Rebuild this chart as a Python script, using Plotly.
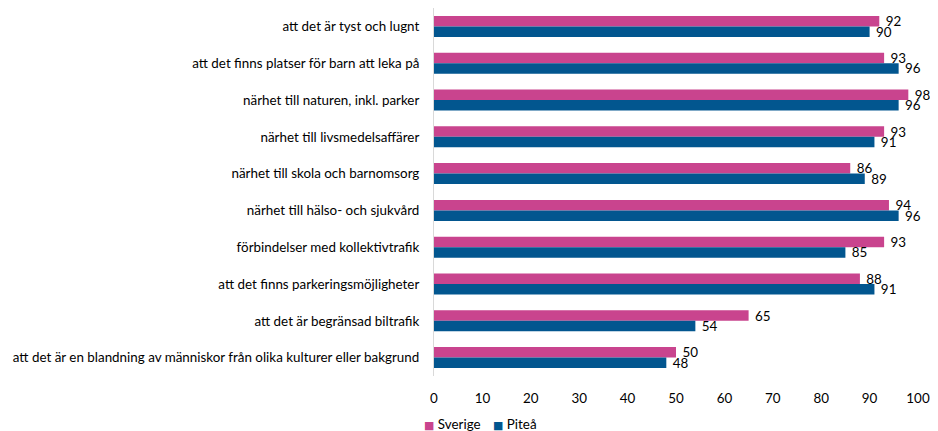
import plotly.graph_objects as go

categories = [
    "att det är tyst och lugnt",
    "att det finns platser för barn att leka på",
    "närhet till naturen, inkl. parker",
    "närhet till livsmedelsaffärer",
    "närhet till skola och barnomsorg",
    "närhet till hälso- och sjukvård",
    "förbindelser med kollektivtrafik",
    "att det finns parkeringsmöjligheter",
    "att det är begränsad biltrafik",
    "att det är en blandning av människor från olika kulturer eller bakgrund",
]
sverige = [92, 93, 98, 93, 86, 94, 93, 88, 65, 50]
pitea = [90, 96, 96, 91, 89, 96, 85, 91, 54, 48]
x_ticks = [0, 10, 20, 30, 40, 50, 60, 70, 80, 90, 100]
series_names = ["Sverige", "Piteå"]
colors = ["#C9448E", "#02568F"]

FONT = "Lato, Open Sans, sans-serif"
FS = 13.4

fig = go.Figure()
for name, vals, col in zip(series_names, [sverige, pitea], colors):
    fig.add_trace(go.Bar(
        y=categories, x=vals, name=name, orientation="h",
        marker=dict(color=col, line=dict(width=0)),
        text=["\u00a0" + str(v) for v in vals], textposition="outside", constraintext="none",
        textfont=dict(size=FS, color="#000000", family=FONT), cliponaxis=False,
        showlegend=False,
    ))

# legend drawn as compact text items (small squares, like the reference)
legend_x = [-0.0245, 0.118]
for name, col, lx in zip(series_names, colors, legend_x):
    fig.add_annotation(
        xref="paper", yref="paper", x=lx, y=-0.13, xanchor="left", yanchor="middle",
        showarrow=False,
        text=f"<span style='color:{col};font-family:DejaVu Sans;font-size:11px'>■</span> {name}",
        font=dict(size=FS, family=FONT, color="#000000"),
    )

fig.update_layout(
    width=930, height=423,
    margin=dict(l=426, r=20, t=0, b=55, autoexpand=False),
    barmode="group", bargap=0.43, bargroupgap=0,
    plot_bgcolor="white", paper_bgcolor="white",
    font=dict(family=FONT, size=FS, color="#000000"),
    xaxis=dict(range=[0, 100], tickvals=x_ticks, showgrid=False, zeroline=False,
               showline=False, ticks="", tickfont=dict(size=FS), automargin=False,
               ticklabelstandoff=13),
    yaxis=dict(autorange="reversed", showline=True, linecolor="#D9D9D9", linewidth=1,
               ticks="", ticklabelstandoff=11, tickfont=dict(size=FS), automargin=False),
)

fig.write_html("out.html")
